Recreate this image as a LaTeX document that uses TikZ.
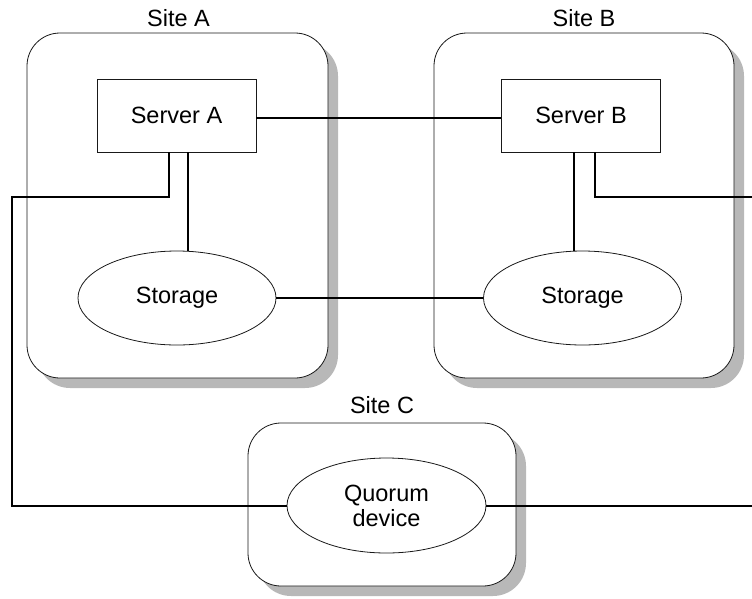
\documentclass[tikz,border=0pt]{standalone}
\usepackage{fontspec}
\setmainfont{Liberation Sans}
\usetikzlibrary{shapes.geometric,shadows,calc}
\begin{document}
\begin{tikzpicture}[x=1pt,y=-1pt,
  every node/.style={font=\fontsize{23.5}{25}\selectfont, text=black},
  sitebox/.style={draw=black!90, line width=0.8pt, fill=white, rounded corners=33pt,
    general shadow={fill=black!28, shadow xshift=10pt, shadow yshift=-10pt}, inner sep=0pt},
  srvbox/.style={draw=black!90, line width=0.8pt, fill=white, minimum width=159pt, minimum height=73pt, inner sep=0pt},
  stor/.style={ellipse, draw=black!90, line width=0.8pt, fill=white, minimum width=198pt, minimum height=94pt, inner sep=0pt, align=center},
  sitelabel/.style={anchor=base, inner sep=0pt},
  conn/.style={draw=black, line width=2pt}]
\useasboundingbox (0,0) rectangle (752,598);
% sites
\node[sitebox, minimum width=301pt, minimum height=345pt] (siteA) at (177.5,205.5) {};
\node[sitebox, minimum width=300pt, minimum height=345pt] (siteB) at (584,205.5) {};
\node[sitebox, minimum width=268pt, minimum height=163pt] (siteC) at (382,504.5) {};
\node[sitelabel] (labA) at (178.5,26) {Site A};
\node[sitelabel] (labB) at (584,26) {Site B};
\node[sitelabel] (labC) at (382,413) {Site C};
% servers and storage
\node[srvbox] (sa) at (176.5,115.5) {Server A};
\node[srvbox] (sb) at (581,115.5) {Server B};
\node[stor] (stA) at (177,298) {Storage};
\node[stor] (stB) at (582.5,298) {Storage};
\node[stor, minimum width=199pt, minimum height=95pt] (q) at (386.5,505.5) {Quorum\\device};
% free ends and corners
\coordinate (cL) at (12,197);
\coordinate (eR) at (752,197);
\coordinate (eR2) at (752,506);
% connectors
\draw[conn] ([yshift=-2.5pt]sa.east) -- ([yshift=-2.5pt]sb.west);
\draw[conn] (stA.east) -- (stB.west);
\draw[conn] ([xshift=11.5pt]sa.south) -- ([xshift=11.5pt]sa.south |- stA.north);
\draw[conn] ([xshift=-7pt]sb.south) -- ([xshift=-7pt]sb.south |- stB.north);
\draw[conn] ([xshift=-7.5pt]sa.south) |- (cL) |- (q.west);
\draw[conn] ([xshift=14pt]sb.south) |- (eR);
\draw[conn] (q.east) -- (q.east -| eR2);
\end{tikzpicture}
\end{document}
